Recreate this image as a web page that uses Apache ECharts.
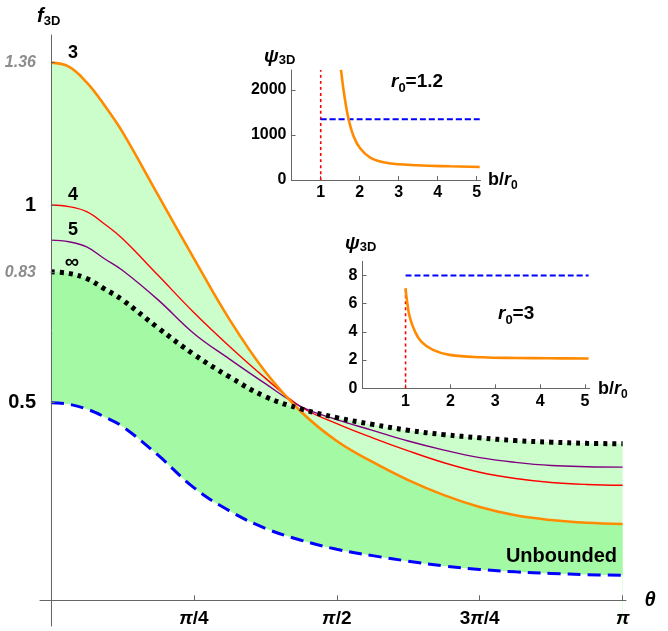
<!DOCTYPE html>
<html>
<head>
<meta charset="utf-8">
<script src="https://cdn.jsdelivr.net/npm/echarts@6/dist/echarts.min.js"></script>
<style>
  html, body { margin: 0; padding: 0; background: #fff; }
  #chart { width: 668px; height: 631px; }
</style>
</head>
<body>
<div id="chart"></div>
<script>
// theta samples, in units of pi
const thetaPi = [0, 0.03125, 0.0625, 0.09375, 0.125, 0.1875, 0.25, 0.3125, 0.375, 0.4375, 0.5, 0.5625, 0.625, 0.6875, 0.75, 0.8125, 0.875, 0.9375, 1]
// f_3D for r0 = 3, 4, 5, infinity and the unbounded lower curve
const fR3 = [1.36, 1.35, 1.31, 1.252, 1.185, 1.025, 0.865, 0.71, 0.578, 0.477, 0.403, 0.350, 0.304, 0.266, 0.236, 0.215, 0.203, 0.196, 0.193]
const fR4 = [1.0, 0.996, 0.983, 0.952, 0.915, 0.822, 0.728, 0.642, 0.562, 0.489, 0.447, 0.411, 0.378, 0.348, 0.324, 0.308, 0.298, 0.293, 0.291]
const fR5 = [0.911, 0.907, 0.894, 0.864, 0.835, 0.76, 0.675, 0.61, 0.548, 0.490, 0.457, 0.43, 0.403, 0.38, 0.361, 0.349, 0.341, 0.338, 0.337]
const fInf = [0.831, 0.827, 0.814, 0.788, 0.76, 0.689, 0.622, 0.565, 0.515, 0.484, 0.462, 0.445, 0.430, 0.419, 0.411, 0.404, 0.400, 0.397, 0.396]
const fUnb = [0.5, 0.496, 0.484, 0.464, 0.44, 0.367, 0.285, 0.226, 0.182, 0.152, 0.129, 0.113, 0.099, 0.087, 0.078, 0.072, 0.068, 0.065, 0.063]

// x ticks in units of pi, label as [coefficient, denominator]
const xTickPi = [0.25, 0.5, 0.75, 1]
const xTickText = [['', '/4'], ['', '/2'], ['3', '/4'], ['', '']]
const yTicks = [0.5, 0.83, 1, 1.36]
const yTicksGray = [0.83, 1.36]

// inset r0 = 1.2
const b1 = [1.52, 1.61, 1.71, 1.84, 2.01, 2.26, 2.61, 3.03, 3.46, 4.32, 5.08]
const psi1 = [2444, 1852, 1370, 978, 704, 504, 393, 348, 326, 304, 289]
const psiBound1 = 1345
const psiTop1 = 2440
const psiTicks1 = [0, 1000, 2000]

// inset r0 = 3
const b2 = [1.0, 1.02, 1.09, 1.21, 1.35, 1.61, 1.98, 2.72, 3.47, 4.21, 5.08]
const psi2 = [7.1, 6.5, 5.09, 4.02, 3.31, 2.72, 2.37, 2.2, 2.15, 2.13, 2.11]
const psiBound2 = 8
const psiTicks2 = [0, 2, 4, 6, 8]

const bTicks = [1, 2, 3, 4, 5]
const bEnd = 5.08

const PI = Math.PI
const FONT = '"Liberation Sans", Arial, "DejaVu Sans", sans-serif'
const AXIS = '#666'

const theta = thetaPi.map(t => t * PI)
const pts = (xs, ys) => xs.map((x, i) => [x, ys[i]])
const upper = fR3.map((v, i) => Math.max(v, fInf[i]))
const lower = fR3.map((v, i) => Math.min(v, fInf[i]))

const area = (ys, color) => ({
  type: 'line', xAxisIndex: 0, yAxisIndex: 0, data: pts(theta, ys),
  smooth: 0.4, symbol: 'none', silent: true, z: 1,
  lineStyle: { width: 0, opacity: 0 },
  areaStyle: { color, opacity: 1, origin: 'start' }
})

const curve = (idx, data, color, width, type, z) => ({
  type: 'line', xAxisIndex: idx, yAxisIndex: idx, data,
  smooth: 0.4, symbol: 'none', silent: true, z: z || 3,
  lineStyle: { color, width, type, cap: 'butt' }
})

const insetX = (idx, min) => ({
  gridIndex: idx, type: 'value', min, max: 5.1,
  axisLine: { onZero: false, lineStyle: { color: AXIS } },
  axisTick: { customValues: bTicks, inside: true, length: 4, lineStyle: { color: AXIS } },
  axisLabel: { customValues: bTicks, margin: 5, formatter: v => String(v), fontFamily: FONT, fontWeight: 'bold', fontSize: 16, color: '#000' },
  splitLine: { show: false }
})

const insetY = (idx, max, ticks) => ({
  gridIndex: idx, type: 'value', min: 0, max,
  axisLine: { onZero: false, lineStyle: { color: AXIS } },
  axisTick: { customValues: ticks, inside: true, length: 4, lineStyle: { color: AXIS } },
  axisLabel: { customValues: ticks, margin: 5, formatter: v => String(v), fontFamily: FONT, fontWeight: 'bold', fontSize: 16, color: '#000' },
  splitLine: { show: false }
})

// small text runs for labels with subscripts
const ctx = document.createElement('canvas').getContext('2d')
const width = (text, font) => { ctx.font = font + ' ' + FONT; return ctx.measureText(text).width }
const run = (x, y, parts, center) => {
  const out = []
  if (center) x -= parts.reduce((s, p) => s + width(p[0], p[1]), 0) / 2
  parts.forEach(([text, font, dy]) => {
    out.push({ type: 'text', z: 100, silent: true,
      style: { text, x, y: y + (dy || 0), font: font + ' ' + FONT, fill: '#000', align: 'left', verticalAlign: 'middle' } })
    x += width(text, font)
  })
  return out
}
const label = (text, x, y, font, align) => ({
  type: 'text', z: 100, silent: true,
  style: { text, x, y, font: font + ' ' + FONT, fill: '#000', align: align || 'center', verticalAlign: 'middle' }
})

const chart = echarts.init(document.getElementById('chart'), null, { renderer: 'canvas' })

chart.setOption({
  backgroundColor: '#fff',
  animation: false,
  grid: [
    { left: 40, top: 35, width: 586, height: 591, outerBoundsMode: 'none', containLabel: false },
    { left: 291.5, top: 70, width: 189, height: 110, outerBoundsMode: 'none', containLabel: false },
    { left: 362.5, top: 261.3, width: 227, height: 127, outerBoundsMode: 'none', containLabel: false }
  ],
  xAxis: [
    {
      gridIndex: 0, type: 'value', min: -0.06, max: 3.16, zlevel: 1,
      axisLine: { onZero: true, lineStyle: { color: AXIS } },
      axisTick: { customValues: xTickPi.map(t => t * PI), inside: true, length: 5, lineStyle: { color: AXIS } },
      axisLabel: { show: false },
      splitLine: { show: false }
    },
    insetX(1, 0.25),
    insetX(2, 0.04)
  ],
  yAxis: [
    {
      gridIndex: 0, type: 'value', min: -0.065, max: 1.43, zlevel: 1,
      axisLine: { onZero: true, lineStyle: { color: AXIS } },
      axisTick: { customValues: yTicks, inside: true, length: 4, lineStyle: { color: AXIS } },
      axisLabel: {
        customValues: yTicks, margin: 4,
        formatter: v => (yTicksGray.some(g => Math.abs(g - v) < 1e-6) ? '{g|' + v + '}' : '{b|' + v + '}'),
        rich: {
          g: { fontFamily: FONT, fontStyle: 'italic', fontWeight: 'bold', fontSize: 16, color: '#8c8c8c' },
          b: { fontFamily: FONT, fontWeight: 'bold', fontSize: 20, color: '#000' }
        }
      },
      splitLine: { show: false }
    },
    insetY(1, 2440, psiTicks1),
    insetY(2, 9.0, psiTicks2)
  ],
  series: [
    area(upper, '#ccfecc'),
    area(lower, '#a4faa4'),
    area(fUnb, '#ffffff'),
    curve(0, pts(theta, fR3), '#ff8a00', 2.6, 'solid', 4),
    curve(0, pts(theta, fR4), '#ff0000', 1.4, 'solid'),
    curve(0, pts(theta, fR5), '#800080', 1.4, 'solid'),
    curve(0, pts(theta, fInf), '#000000', 5, [4, 5], 5),
    curve(0, pts(theta, fUnb), '#0000ff', 3, [13, 7], 5),

    curve(1, [[1, 0], [1, psiTop1]], '#ff0000', 1.6, [3, 3]),
    curve(1, [[1, psiBound1], [bEnd, psiBound1]], '#0000ff', 2, [6, 3]),
    curve(1, pts(b1, psi1), '#ff8a00', 2.6, 'solid', 4),

    curve(2, [[1, 0], [1, psi2[0]]], '#ff0000', 1.6, [3, 3]),
    curve(2, [[1, psiBound2], [bEnd, psiBound2]], '#0000ff', 2, [6, 3]),
    curve(2, pts(b2, psi2), '#ff8a00', 2.6, 'solid', 4)
  ]
})

// x tick labels of the main axis, placed through the axis scale
const xLabels = []
xTickPi.forEach((t, i) => {
  const [px, py] = chart.convertToPixel({ xAxisIndex: 0, yAxisIndex: 0 }, [t * PI, 0])
  const [pre, post] = xTickText[i]
  xLabels.push(...run(px, py + 18, [[pre, 'bold 19px'], ['π', 'italic bold 19px'], [post, 'bold 19px']], true))
})

chart.setOption({
  graphic: [].concat(
    xLabels,
    run(37, 16, [['f', 'italic bold 20px'], ['3D', 'bold 13px', 5]]),
    run(264, 57, [['ψ', 'italic bold 19px'], ['3D', 'bold 13px', 3]]),
    run(345, 244, [['ψ', 'italic bold 19px'], ['3D', 'bold 13px', 3]]),
    run(488, 180, [['b/', 'bold 18px'], ['r', 'italic bold 18px'], ['0', 'bold 12px', 6]]),
    run(598, 389, [['b/', 'bold 18px'], ['r', 'italic bold 18px'], ['0', 'bold 12px', 6]]),
    run(391, 82, [['r', 'italic bold 19px'], ['0', 'bold 13px', 6], ['=1.2', 'bold 19px']]),
    run(498, 314, [['r', 'italic bold 19px'], ['0', 'bold 13px', 6], ['=3', 'bold 19px']]),
    [
      label('θ', 650, 600, 'italic bold 20px'),
      label('3', 73, 53, 'bold 18px'),
      label('4', 73, 195, 'bold 18px'),
      label('5', 73, 230, 'bold 18px'),
      label('∞', 72, 262, 'bold 20px'),
      label('Unbounded', 617, 556, 'bold 20px', 'right')
    ]
  )
})
</script>
</body>
</html>
